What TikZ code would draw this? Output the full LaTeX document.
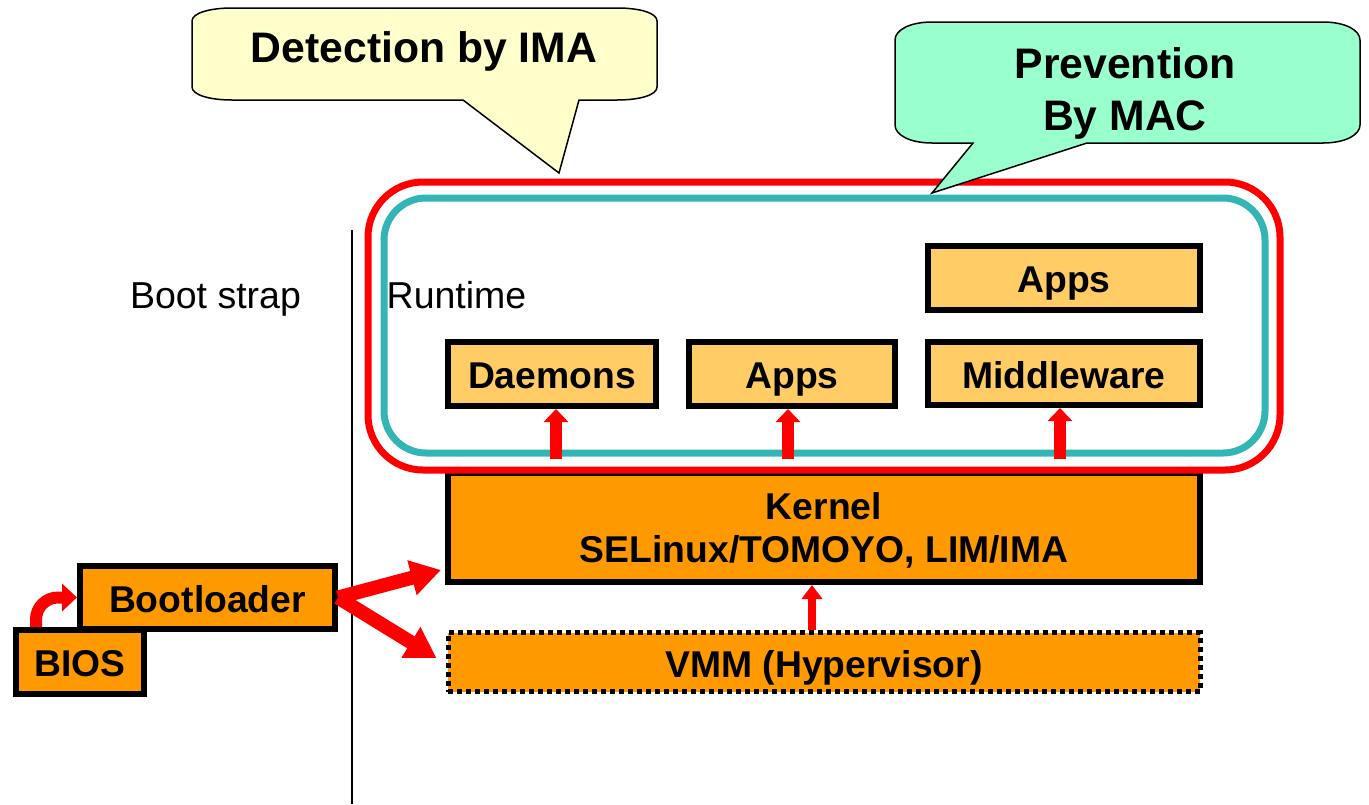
\documentclass[tikz,border=0pt]{standalone}
\usepackage{fontspec}
\setmainfont{Liberation Sans}
\usetikzlibrary{arrows.meta}
\definecolor{cyellow}{HTML}{FFFFCC}
\definecolor{cgreen}{HTML}{99FFCC}
\definecolor{lightorange}{HTML}{FFCC66}
\definecolor{darkorange}{HTML}{FF9900}
\definecolor{tealframe}{HTML}{33B5B5}
\definecolor{redframe}{HTML}{FF0000}
\begin{document}
\begin{tikzpicture}[x=1pt,y=-1pt,
  lbl/.style={inner sep=0pt,font=\bfseries\fontsize{37.3}{43}\selectfont,align=center},
  onel/.style={text height=31pt,text depth=1.3pt},
  appbox/.style={lbl,onel,draw=black,line width=6pt,fill=lightorange},
  corebox/.style={lbl,draw=black,line width=6pt,fill=darkorange},
  vmmbox/.style={lbl,text height=34pt,text depth=2.2pt,draw=black,line width=5pt,dash pattern=on 5pt off 4pt,fill=darkorange},
  plain/.style={inner sep=0pt,font=\fontsize{37.5}{44}\selectfont,text height=30pt,text depth=3.1pt},
  calltext/.style={inner sep=0pt,font=\bfseries\fontsize{42.7}{52}\selectfont,align=center},
  callout/.style={draw=black,line width=1.5pt,line join=miter},
  uparrow/.style={draw=redframe,line width=12pt,-{Triangle[width=24pt,length=13pt]}},
  smallarrow/.style={draw=redframe,line width=8pt,-{Triangle[width=20pt,length=14pt]}},
  bigarrow/.style={draw=redframe,line width=14pt,-{Triangle[width=34pt,length=30pt]}},
  curvearrow/.style={draw=redframe,line width=12pt,rounded corners=22pt,-{Triangle[width=27pt,length=15pt]}}
]
\useasboundingbox (0,0) rectangle (1369,804);

% separator line
\coordinate (septop) at (352,230);
\coordinate (sepbot) at (352,804);
\draw[line width=2pt] (septop) -- (sepbot);

% section labels
\node[plain] (bootstrap) at (215.5,295.5) {Boot strap};
\node[plain] (runtime) at (456.5,295.5) {Runtime};

% detection callout
\path[callout,fill=cyellow] (232,8) -- (617,8) .. controls (640,8) and (657,13) .. (657,21)
  -- (657,87) .. controls (657,95) and (640,100) .. (617,100) -- (579,100) -- (559,173)
  -- (463,100) -- (232,100) .. controls (210,100) and (192,95) .. (192,87)
  -- (192,21) .. controls (192,13) and (210,8) .. (232,8) -- cycle;
\node[calltext,text height=33pt,text depth=2.4pt] (detect) at (424,47.5) {Detection by IMA};

% kernel and VMM
\node[corebox,text height=73pt,text depth=3.3pt,minimum width=752pt,minimum height=109pt] (kernel) at (824,527.5)
  {Kernel\\SELinux/TOMOYO, LIM/IMA};
\node[vmmbox,minimum width=752pt,minimum height=59pt] (vmm) at (824,662)
  {VMM (Hypervisor)};

% frames
\draw[redframe,line width=7pt,rounded corners=55pt] (368,182) rectangle (1280,470);
\draw[tealframe,line width=7pt,rounded corners=42pt] (384,198) rectangle (1265,453);

% runtime boxes
\node[appbox,minimum width=208pt,minimum height=64pt] (daemons) at (552,374) {Daemons};
\node[appbox,minimum width=206pt,minimum height=64pt] (apps) at (792,374) {Apps};
\node[appbox,minimum width=272pt,minimum height=63pt] (middleware) at (1064,373.5) {Middleware};
\node[appbox,minimum width=272pt,minimum height=64pt] (appstop) at (1064,278) {Apps};

% boot boxes
\node[corebox,onel,minimum width=255pt,minimum height=63pt] (bootloader) at (207.5,597.5) {Bootloader};
\node[corebox,onel,minimum width=128pt,minimum height=64pt] (bios) at (80,662) {BIOS};

% arrows kernel -> runtime
\draw[uparrow,shorten <=11pt] ([xshift=4pt]daemons.south |- kernel.north) -- ([xshift=4pt]daemons.south);
\draw[uparrow,shorten <=11pt] ([xshift=-4pt]apps.south |- kernel.north) -- ([xshift=-4pt]apps.south);
\draw[uparrow,shorten <=11pt] ([xshift=-4pt]middleware.south |- kernel.north) -- ([xshift=-4pt]middleware.south);

% VMM -> kernel
\draw[smallarrow] ([xshift=-12pt]vmm.north) -- ([xshift=-12pt]kernel.south);

% bootloader -> kernel / VMM
\draw[bigarrow] (bootloader.east) -- ([xshift=-4pt,yshift=15pt]kernel.south west);
\draw[bigarrow] (bootloader.east) -- ([xshift=-9pt,yshift=4pt]vmm.west);

% BIOS -> bootloader
\draw[curvearrow] ([xshift=23pt]bios.north west) |- (bootloader.west);

% prevention callout
\path[callout,fill=cgreen] (932,22) -- (1323,22) .. controls (1345,22) and (1360,30) .. (1360,40)
  -- (1360,125) .. controls (1360,135) and (1345,143) .. (1323,143) -- (1087,143) -- (932,193)
  -- (973,143) -- (932,143) .. controls (910,143) and (895,135) .. (895,125)
  -- (895,40) .. controls (895,30) and (910,22) .. (932,22) -- cycle;
\node[calltext,text height=85pt,text depth=2.4pt] (prevent) at (1125,88.7) {Prevention\\By MAC};
\end{tikzpicture}
\end{document}
